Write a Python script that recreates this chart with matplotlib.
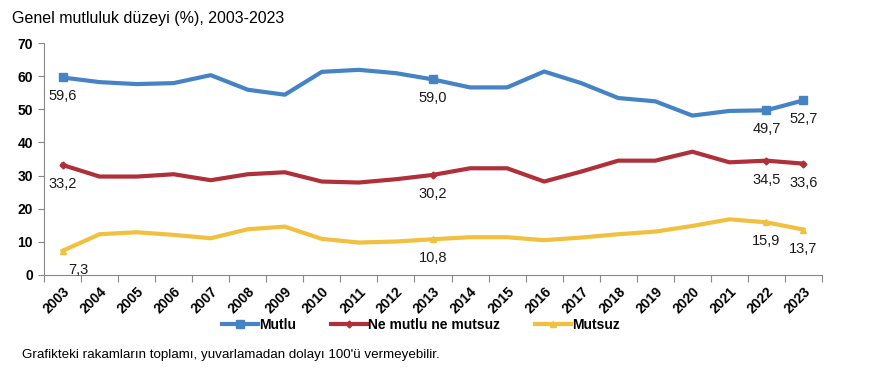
import numpy as np
import matplotlib.pyplot as plt

years = [str(y) for y in range(2003, 2024)]
mutlu = [59.6, 58.2, 57.6, 57.9, 60.3, 55.9, 54.4, 61.3, 61.9, 60.9, 59.0,
         56.6, 56.6, 61.4, 57.9, 53.4, 52.4, 48.1, 49.5, 49.7, 52.7]
ne_mutlu = [33.2, 29.7, 29.7, 30.4, 28.6, 30.4, 31.0, 28.2, 27.9, 28.9, 30.2,
            32.2, 32.2, 28.2, 31.2, 34.5, 34.5, 37.2, 34.0, 34.5, 33.6]
mutsuz = [7.3, 12.3, 12.9, 12.1, 11.1, 13.8, 14.6, 10.9, 9.8, 10.1, 10.8,
          11.4, 11.4, 10.5, 11.3, 12.3, 13.1, 14.8, 16.8, 15.9, 13.7]
labeled = [0, 10, 19, 20]

plt.rcParams['font.family'] = ['Liberation Sans', 'DejaVu Sans']

fig = plt.figure(figsize=(8.74, 3.73), dpi=100)
ax = fig.add_axes([44/874, 98/373, 778/874, 232/373])

x = np.arange(len(years))
series = [
    (mutlu, 'Mutlu', '#4683c4', 's', 6),
    (ne_mutlu, 'Ne mutlu ne mutsuz', '#b0303a', 'D', 3.5),
    (mutsuz, 'Mutsuz', '#f2c03f', '^', 4.5),
]
for vals, name, col, mk, ms in series:
    ax.plot(x, vals, color=col, lw=3, marker=mk, ms=ms, markevery=labeled,
            label=name, solid_joinstyle='round')
    for i in labeled:
        dx = 0
        if i == 0 and name == 'Mutsuz':
            dx = 16
        ax.annotate(f'{vals[i]:.1f}'.replace('.', ','), (x[i], vals[i]),
                    xytext=(dx, -19), textcoords='offset pixels',
                    ha='center', va='center', fontsize=10.5, color='#1a1a1a')

ax.set_xlim(-0.5, len(years) - 0.5)
ax.set_ylim(0, 70)
ax.set_yticks(range(0, 71, 10))
ax.tick_params(axis='y', labelsize=10, length=4, color='#888888', pad=4)
for t in ax.get_yticklabels():
    t.set_fontweight('bold')
ax.set_xticks(np.arange(-0.5, len(years), 1))
ax.set_xticklabels([])
ax.tick_params(axis='x', length=5, color='#888888')
ax.set_xticks(x, minor=True)
ax.set_xticklabels(years, minor=True, rotation=45, ha='right',
                   rotation_mode='anchor', fontsize=10, fontweight='bold')
ax.tick_params(axis='x', which='minor', length=0, pad=7)
for s in ['top', 'right']:
    ax.spines[s].set_visible(False)
for s in ['left', 'bottom']:
    ax.spines[s].set_color('#888888')

leg = fig.legend(loc='center', bbox_to_anchor=(421/874, 1 - 325/373), ncol=3,
                 frameon=False, prop={'weight': 'bold', 'size': 10},
                 handlelength=2.6, handletextpad=0.1, columnspacing=2.5)

fig.text(12/874, 1 - 18/373, 'Genel mutluluk düzeyi (%), 2003-2023',
         fontsize=11.5, va='center', ha='left')
fig.text(22/874, 1 - 355/373,
         "Grafikteki rakamların toplamı, yuvarlamadan dolayı 100'ü vermeyebilir.",
         fontsize=9.6, va='center', ha='left',
         family=['Liberation Sans Narrow', 'Liberation Sans', 'DejaVu Sans'])

fig.savefig('out.png', dpi=100)
